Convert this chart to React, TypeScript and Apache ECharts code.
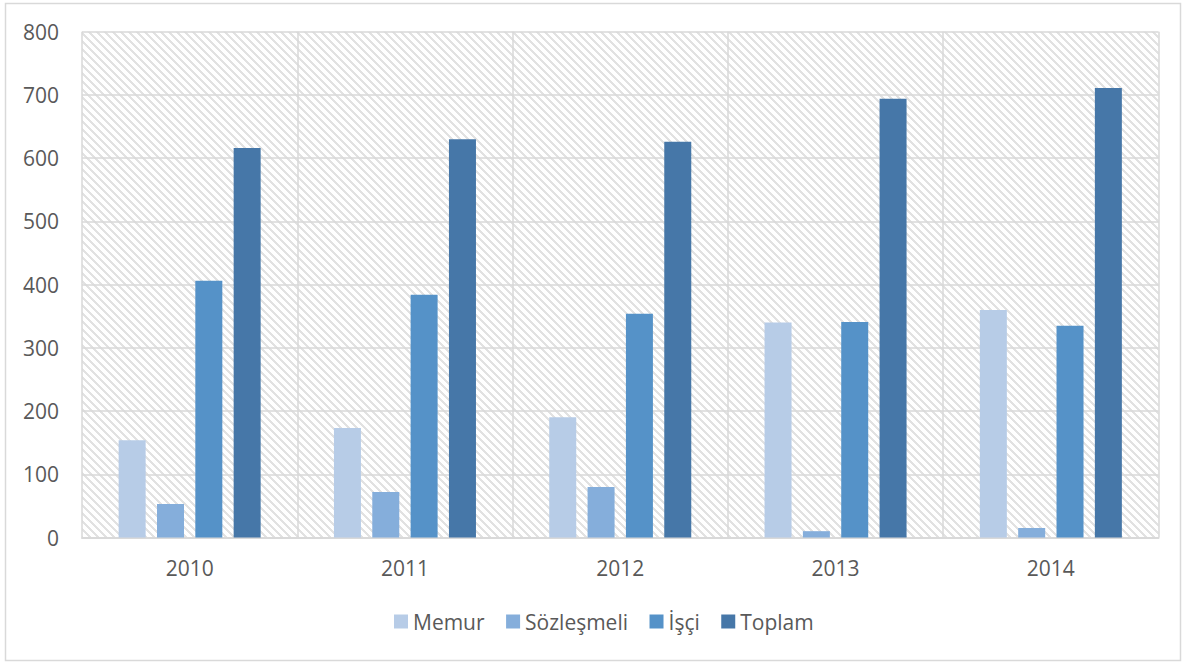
import React, { useEffect, useRef } from "react";
import * as echarts from "echarts";

const years = ["2010", "2011", "2012", "2013", "2014"];
const memur = [154, 173, 190, 340, 360];
const sozlesmeli = [53, 72, 80, 10, 15];
const isci = [406, 384, 354, 341, 335];
const toplam = [616, 630, 626, 694, 711];
const seriesNames = ["Memur", "Sözleşmeli", "İşçi", "Toplam"];
const seriesColors = ["#B7CCE7", "#85AEDB", "#5592C8", "#4677A8"];

const FONT = "'Open Sans', 'Noto Sans', sans-serif";

function makeHatch(): HTMLCanvasElement {
  const c = document.createElement("canvas");
  c.width = 8;
  c.height = 8;
  const ctx = c.getContext("2d")!;
  ctx.fillStyle = "#ffffff";
  ctx.fillRect(0, 0, 8, 8);
  ctx.fillStyle = "#e2e2e2";
  for (let y = 0; y < 8; y++) {
    for (let x = 0; x < 8; x++) {
      if (((x - y + 16) % 8) < 3) ctx.fillRect(x, y, 1, 1);
    }
  }
  return c;
}

export default function App() {
  const ref = useRef<HTMLDivElement>(null);
  useEffect(() => {
    if (!ref.current) return;
    const chart = echarts.init(ref.current, undefined, { renderer: "svg" });
    const data = [memur, sozlesmeli, isci, toplam];
    chart.setOption({
      animation: false,
      backgroundColor: "#ffffff",
      graphic: [
        {
          type: "rect",
          shape: { x: 5.5, y: 3.5, width: 1175, height: 657 },
          style: { fill: "none", stroke: "#d9d9d9", lineWidth: 1.5 },
          z: -10,
          silent: true,
        },
      ],
      grid: {
        left: 82,
        right: 27.5,
        top: 31.7,
        bottom: 126.5,
        show: true,
        borderWidth: 0,
        backgroundColor: { image: makeHatch(), repeat: "repeat" },
      },
      legend: {
        data: seriesNames,
        bottom: 27,
        left: 389,
        itemWidth: 14,
        itemHeight: 14,
        itemGap: 21.5,
        icon: "rect",
        textStyle: { fontFamily: FONT, fontSize: 21, color: "#595959" },
      },
      xAxis: {
        type: "category",
        data: years,
        axisLine: { show: true, lineStyle: { color: "#d9d9d9", width: 2 } },
        axisTick: { show: false },
        splitLine: { show: true, lineStyle: { color: "#d9d9d9", width: 1.5 } },
        axisLabel: { fontFamily: FONT, fontSize: 21, color: "#595959", margin: 20 },
      },
      yAxis: {
        type: "value",
        min: 0,
        max: 800,
        interval: 100,
        axisLine: { show: false },
        axisTick: { show: false },
        splitLine: { show: true, lineStyle: { color: "#d9d9d9", width: 1.5 } },
        axisLabel: { fontFamily: FONT, fontSize: 21, color: "#595959", margin: 23 },
      },
      series: seriesNames.map((name, i) => ({
        name,
        type: "bar",
        data: data[i],
        barWidth: 27,
        barGap: "42%",
        itemStyle: { color: seriesColors[i] },
      })),
    });
    return () => chart.dispose();
  }, []);
  return (
    <div
      ref={ref}
      style={{ position: "absolute", left: 0, top: 0, width: 1186, height: 664 }}
    />
  );
}
